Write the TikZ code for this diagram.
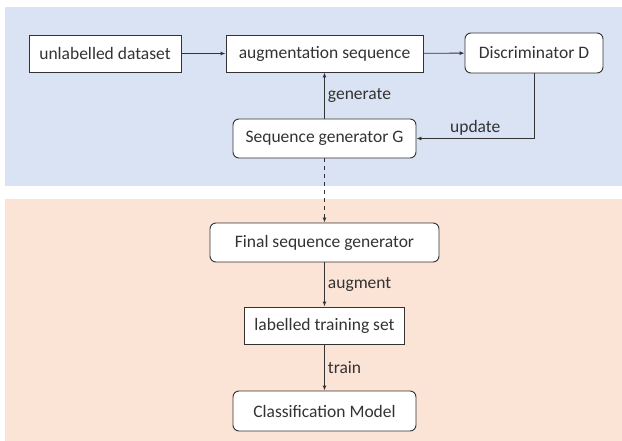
\documentclass[tikz,border=0pt]{standalone}
\usepackage{fontspec}
\setmainfont{Carlito}
\usetikzlibrary{arrows.meta}
\usetikzlibrary{positioning}
\definecolor{PaleBlue}{HTML}{DAE3F3}
\definecolor{PaleOrange}{HTML}{FBE3D6}
\definecolor{InkGrey}{HTML}{333333}

\begin{document}
\begin{tikzpicture}[x=1pt,y=-1pt,
    font=\fontsize{17.5}{20}\selectfont, text=InkGrey,
    plainbox/.style={draw=InkGrey, line width=0.9pt, fill=white, inner sep=0pt},
    roundbox/.style={plainbox, rounded corners=6pt},
    flow/.style={draw=InkGrey, line width=0.9pt, -{Latex[length=5pt,width=4pt]}},
    tag/.style={inner sep=3pt}]
    \useasboundingbox (0,0) rectangle (622,441);
    \fill[PaleBlue] (5,7) rectangle (622,186);
    \fill[PaleOrange] (5,199) rectangle (622,441);

    \node[plainbox, minimum width=152pt, minimum height=37pt] (data) at (105,53.5) {unlabelled dataset};
    \node[plainbox, minimum width=197pt, minimum height=37pt] (augseq) at (324.5,53.5) {augmentation sequence};
    \node[roundbox, minimum width=138pt, minimum height=40pt] (disc) at (534,53) {Discriminator D};
    \node[roundbox, minimum width=183pt, minimum height=39pt] (gen) at (324.5,138.5) {Sequence generator G};

    \node[roundbox, minimum width=229pt, minimum height=39pt] (final) at (324.5,242.5) {Final sequence generator};
    \node[plainbox, minimum width=160pt, minimum height=37pt] (trainset) at (324.5,325.5) {labelled training set};
    \node[roundbox, minimum width=183pt, minimum height=40pt] (model) at (324.5,411) {Classification Model};

    \draw[flow] (data) -- (augseq);
    \draw[flow] (augseq) -- (disc);
    \draw[flow] (gen) -- node[tag, right] {generate} (augseq);
    \draw[flow] (disc.south) |- node[tag, above, pos=0.75] {update} (gen.east);
    \draw[flow, dashed, dash pattern=on 4pt off 4pt] (gen) -- (final);
    \draw[flow] (final) -- node[tag, right] {augment} (trainset);
    \draw[flow] (trainset) -- node[tag, right] {train} (model);
\end{tikzpicture}
\end{document}
